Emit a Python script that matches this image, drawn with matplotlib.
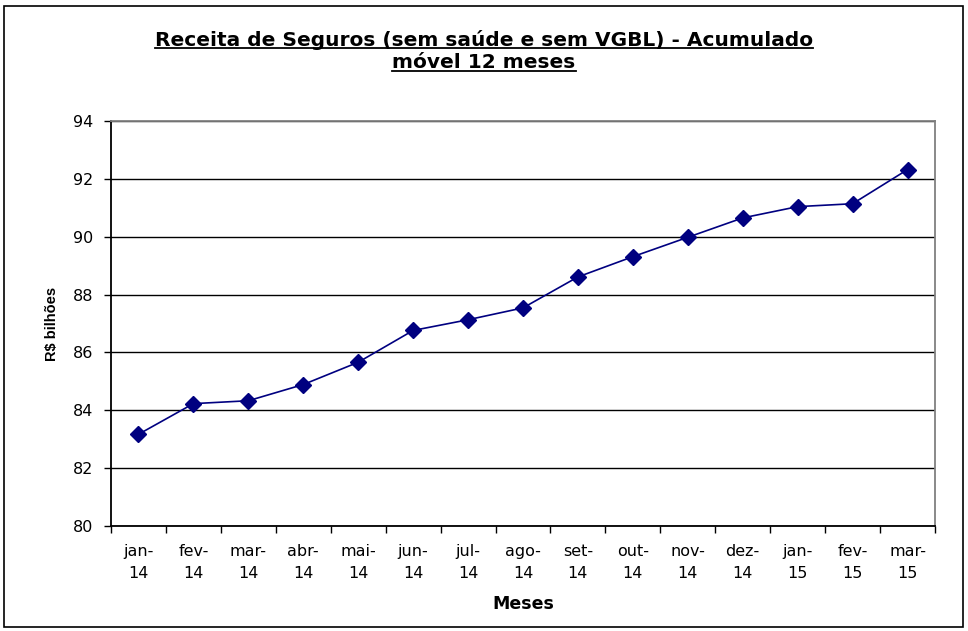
import matplotlib
matplotlib.use("Agg")
import matplotlib.pyplot as plt
from matplotlib.patches import Rectangle
from matplotlib.lines import Line2D

months = ["jan-\n14", "fev-\n14", "mar-\n14", "abr-\n14", "mai-\n14", "jun-\n14", "jul-\n14",
          "ago-\n14", "set-\n14", "out-\n14", "nov-\n14", "dez-\n14", "jan-\n15", "fev-\n15", "mar-\n15"]
values = [83.17, 84.23, 84.33, 84.89, 85.66, 86.76, 87.13, 87.54,
          88.61, 89.31, 89.98, 90.65, 91.04, 91.14, 92.32]
yticks = [80, 82, 84, 86, 88, 90, 92, 94]

plt.rcParams['font.family'] = ['DejaVu Sans']

fig = plt.figure(figsize=(9.68, 6.31), dpi=100)
fig.patch.set_facecolor("white")
fig.patches.append(Rectangle((4/968, 4/631), 959/968, 621/631, transform=fig.transFigure,
                             fill=False, edgecolor="black", linewidth=1.2))

ax = fig.add_axes([111/968, 1-526/631, (935-111)/968, (526-121)/631])
x = list(range(len(values)))
ax.plot(x, values, color="#000080", linewidth=1.2, marker="D", markersize=8,
        markerfacecolor="#000080", markeredgecolor="#000080")

ax.set_ylim(80, 94)
ax.set_yticks(yticks)
ax.set_xlim(-0.5, len(values) - 0.5)
ax.set_xticks([i - 0.5 for i in range(len(values) + 1)])
ax.set_xticklabels([])
ax.set_xticks(x, minor=True)
ax.set_xticklabels(months, minor=True, fontsize=11.5, linespacing=1.6)
ax.tick_params(axis="x", which="minor", length=0, pad=13)
ax.tick_params(axis="x", which="major", length=5, direction="out", color="black", width=1)
ax.tick_params(axis="y", length=5, direction="out", labelsize=11.5, width=1, pad=8)

ax.yaxis.grid(True, color="black", linewidth=1)
ax.set_axisbelow(True)
ax.spines["left"].set_color("black")
ax.spines["bottom"].set_color("black")
ax.spines["left"].set_linewidth(1.3)
ax.spines["bottom"].set_linewidth(1.3)
ax.spines["top"].set_color("#808080")
ax.spines["right"].set_color("#808080")
ax.spines["top"].set_linewidth(1.3)
ax.spines["right"].set_linewidth(1.3)

ax.set_ylabel("R$ bilhões", fontsize=10.5, fontweight="bold", labelpad=10,
              family=["Liberation Sans", "DejaVu Sans"])
ax.set_xlabel("Meses", fontsize=12.5, fontweight="bold", labelpad=10)

t1 = fig.text(0.5, 1-40/631, "Receita de Seguros (sem saúde e sem VGBL) - Acumulado",
              ha="center", va="center", fontsize=14.5, fontweight="bold")
t2 = fig.text(0.5, 1-63/631, "móvel 12 meses",
              ha="center", va="center", fontsize=14.5, fontweight="bold")

fig.canvas.draw()
r = fig.canvas.get_renderer()
for t in (t1, t2):
    bb = t.get_window_extent(r)
    yl = bb.y0 + 2
    fig.lines.append(Line2D([bb.x0 / 968, bb.x1 / 968], [yl / 631, yl / 631],
                            transform=fig.transFigure, color="black", linewidth=1.3))

fig.savefig("out.png", dpi=100, facecolor="white")
